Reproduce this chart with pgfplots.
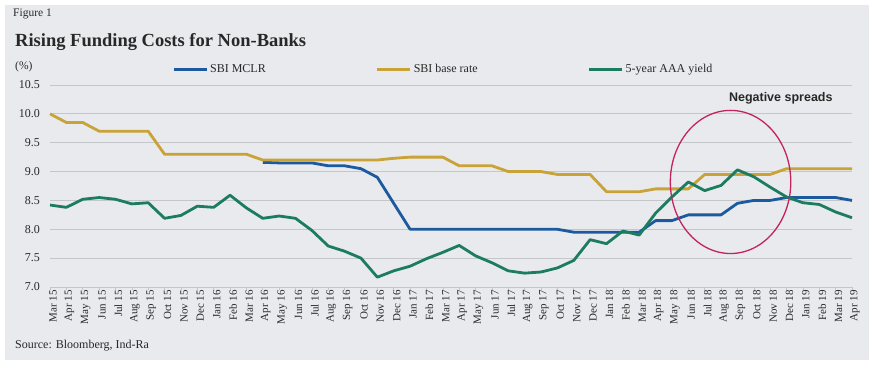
\documentclass[border=0pt]{standalone}
\usepackage{fontspec}
\setmainfont{Liberation Serif}
\newfontfamily\arialfont{Liberation Sans}
\usepackage{pgfplots}
\pgfplotsset{compat=1.18}
\usepackage{pgfplotstable}
\definecolor{bgpanel}{RGB}{232,234,237}
\definecolor{gridc}{RGB}{196,198,202}
\definecolor{mclr}{RGB}{28,90,160}
\definecolor{base}{RGB}{201,163,55}
\definecolor{aaa}{RGB}{28,124,96}
\definecolor{ellc}{RGB}{196,36,92}
\definecolor{txt}{RGB}{40,40,40}

\pgfplotstableread{
x mclr base aaa
0 nan 10.00 8.42
1 nan 9.85 8.38
2 nan 9.85 8.52
3 nan 9.70 8.55
4 nan 9.70 8.52
5 nan 9.70 8.44
6 nan 9.70 8.46
7 nan 9.30 8.19
8 nan 9.30 8.24
9 nan 9.30 8.40
10 nan 9.30 8.38
11 nan 9.30 8.59
12 nan 9.30 8.37
13 9.16 9.20 8.19
14 9.15 9.20 8.23
15 9.15 9.20 8.19
16 9.15 9.20 7.98
17 9.10 9.20 7.71
18 9.10 9.20 7.62
19 9.05 9.20 7.50
20 8.90 9.20 7.17
21 8.45 9.23 7.28
22 8.00 9.25 7.36
23 8.00 9.25 7.49
24 8.00 9.25 7.60
25 8.00 9.10 7.72
26 8.00 9.10 7.54
27 8.00 9.10 7.42
28 8.00 9.00 7.28
29 8.00 9.00 7.24
30 8.00 9.00 7.26
31 8.00 8.95 7.33
32 7.95 8.95 7.46
33 7.95 8.95 7.82
34 7.95 8.65 7.75
35 7.95 8.65 7.97
36 7.95 8.65 7.90
37 8.15 8.70 8.28
38 8.15 8.70 8.56
39 8.25 8.70 8.82
40 8.25 8.95 8.67
41 8.25 8.95 8.76
42 8.45 8.95 9.03
43 8.50 8.95 8.91
44 8.50 8.95 8.73
45 8.55 9.05 8.56
46 8.55 9.05 8.46
47 8.55 9.05 8.43
48 8.55 9.05 8.30
49 8.50 9.05 8.20
}\datatable

\begin{document}
\begin{tikzpicture}
\useasboundingbox (0bp,0bp) rectangle (877bp,380bp);
\fill[white] (0bp,0bp) rectangle (877bp,380bp);
\fill[bgpanel] (5bp,20bp) rectangle (869bp,375bp);
\node[anchor=base west, inner sep=0pt, text=txt, font=\fontsize{11.5bp}{13bp}\selectfont] at (13bp,363bp) {Figure 1};
\node[anchor=base west, inner sep=0pt, text=txt, font=\fontsize{18.5bp}{21bp}\selectfont\bfseries] at (15bp,333bp) {Rising Funding Costs for Non-Banks};
\node[anchor=base west, inner sep=0pt, text=txt, font=\fontsize{11.5bp}{13bp}\selectfont] at (15bp,310bp) {(\%)};
\node[anchor=base west, inner sep=0pt, text=txt, font=\fontsize{12bp}{14bp}\selectfont] at (15bp,32bp) {Source: Bloomberg, Ind-Ra};
\begin{axis}[
  at={(50bp,93bp)}, anchor=south west,
  scale only axis, width=802bp, height=202bp,
  xmin=0, xmax=49, ymin=7, ymax=10.5,
  axis x line*=bottom, axis y line*=left,
  y axis line style={draw=none},
  x axis line style={gridc, line width=0.8bp},
  ymajorgrids, grid style={gridc, line width=0.9bp},
  ytick={7,7.5,...,10.5},
  yticklabel style={/pgf/number format/fixed, /pgf/number format/precision=1, /pgf/number format/fixed zerofill, inner sep=0pt, xshift=-7bp, text=txt, font=\fontsize{12bp}{14bp}\selectfont},
  /pgf/number format/assume math mode=true,
  tick align=outside, major tick length=3bp,
  ytick style={draw=none},
  xtick style={gridc, line width=0.6bp},
  xtick={0,...,49},
  xticklabels={Mar 15,Apr 15,May 15,Jun 15,Jul 15,Aug 15,Sep 15,Oct 15,Nov 15,Dec 15,Jan 16,Feb 16,Mar 16,Apr 16,May 16,Jun 16,Jul 16,Aug 16,Sep 16,Oct 16,Nov 16,Dec 16,Jan 17,Feb 17,Mar 17,Apr 17,May 17,Jun 17,Jul 17,Aug 17,Sep 17,Oct 17,Nov 17,Dec 17,Jan 18,Feb 18,Mar 18,Apr 18,May 18,Jun 18,Jul 18,Aug 18,Sep 18,Oct 18,Nov 18,Dec 18,Jan 19,Feb 19,Mar 19,Apr 19},
  xticklabel style={rotate=90, anchor=east, inner sep=0pt, yshift=-3bp, text=txt, font=\fontsize{11bp}{13bp}\selectfont},
  legend columns=3,
  legend style={at={(axis description cs:0.152,1.079)}, anchor=west, draw=none, fill=none, inner sep=0pt,
    font=\fontsize{12bp}{14bp}\selectfont, text=txt,
    /tikz/every even column/.append style={column sep=108bp}},
  legend image code/.code={\draw[#1, line width=3bp] (0bp,0bp) -- (33bp,0bp);},
  clip=false,
  line join=round,
]
\addplot[mclr, line width=2.8bp, unbounded coords=jump] table[x=x, y=mclr] {\datatable};
\addlegendentry{SBI MCLR}
\addplot[base, line width=2.8bp] table[x=x, y=base] {\datatable};
\addlegendentry{SBI base rate}
\addplot[aaa, line width=2.8bp] table[x=x, y=aaa] {\datatable};
\addlegendentry{5-year AAA yield}
\draw[ellc, line width=1.3bp] (axis cs:41.58,8.82) ellipse [x radius=3.68, y radius=1.24];
\node[font=\arialfont\bfseries\fontsize{12.5bp}{14bp}\selectfont, text=txt] at (axis cs:44.65,10.27) {Negative spreads};
\end{axis}
\end{tikzpicture}
\end{document}
